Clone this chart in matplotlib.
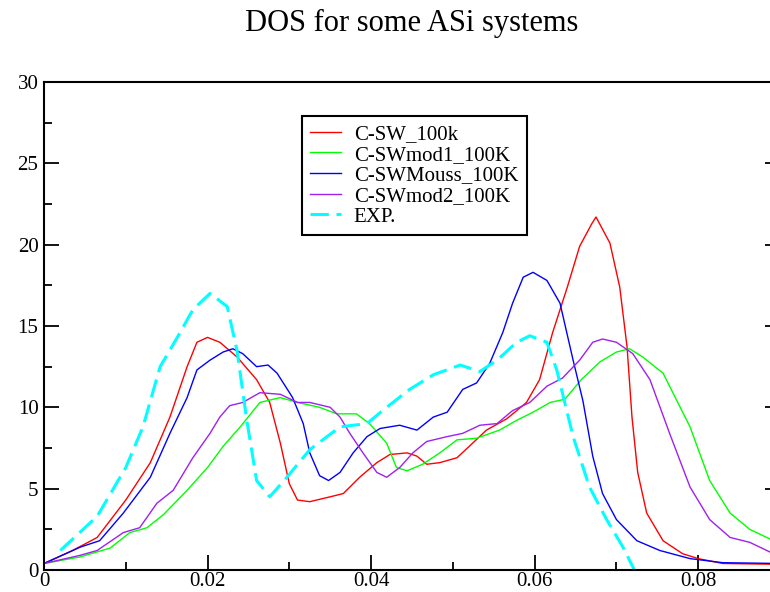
import matplotlib
matplotlib.use("Agg")
import matplotlib.pyplot as plt
from matplotlib.ticker import MultipleLocator

plt.rcParams['font.family'] = ['Liberation Serif', 'DejaVu Serif']

# curves
red_x = [0, 0.0035, 0.0065, 0.010, 0.013, 0.0154, 0.0175, 0.0187, 0.020, 0.0215, 0.0236, 0.026,
         0.0276, 0.0289, 0.030, 0.031, 0.0325, 0.035, 0.0366, 0.0386, 0.0407, 0.0423, 0.0444,
         0.0456, 0.0468, 0.0484, 0.0505, 0.052, 0.0541, 0.0566, 0.059, 0.0606, 0.0622, 0.064,
         0.0655, 0.067, 0.0675, 0.0692, 0.0704, 0.0713, 0.0719, 0.0726, 0.0737, 0.0757, 0.0781,
         0.080, 0.083, 0.09]
red_y = [0.4, 1.2, 2.0, 4.3, 6.6, 9.4, 12.5, 14.0, 14.3, 14.0, 13.1, 11.7,
         10.3, 7.8, 5.3, 4.3, 4.2, 4.5, 4.7, 5.7, 6.6, 7.1, 7.2,
         7.0, 6.5, 6.6, 6.9, 7.6, 8.6, 9.3, 10.3, 11.7, 14.6, 17.4,
         19.9, 21.3, 21.7, 20.1, 17.4, 13.7, 9.4, 6.0, 3.5, 1.8, 1.0,
         0.7, 0.4, 0.35]

green_x = [0, 0.0044, 0.0081, 0.0105, 0.0126, 0.0146, 0.0175, 0.020, 0.0219, 0.024, 0.0264,
           0.0289, 0.031, 0.0337, 0.0358, 0.0382, 0.0398, 0.0419, 0.0431, 0.0444, 0.0463,
           0.0484, 0.0505, 0.0529, 0.0557, 0.0578, 0.0598, 0.0619, 0.0637, 0.0657, 0.068,
           0.070, 0.0716, 0.0732, 0.0757, 0.079, 0.0814, 0.0839, 0.0863, 0.0888, 0.09]
green_y = [0.4, 0.8, 1.35, 2.3, 2.6, 3.4, 4.9, 6.3, 7.6, 8.8, 10.3,
           10.6, 10.3, 10.0, 9.6, 9.6, 9.0, 7.8, 6.3, 6.1, 6.5,
           7.2, 8.0, 8.1, 8.6, 9.2, 9.7, 10.3, 10.5, 11.7, 12.8,
           13.4, 13.6, 13.1, 12.1, 8.8, 5.5, 3.5, 2.5, 1.9, 1.7]

blue_x = [0, 0.0044, 0.0068, 0.0097, 0.013, 0.0154, 0.0175, 0.0187, 0.0203, 0.0219, 0.0231,
          0.0243, 0.026, 0.0274, 0.0285, 0.0304, 0.0317, 0.0325, 0.0337, 0.0348, 0.0362,
          0.0378, 0.0395, 0.0411, 0.0435, 0.0456, 0.0476, 0.0493, 0.0512, 0.0529, 0.0545,
          0.0561, 0.0573, 0.0586, 0.0598, 0.0615, 0.0631, 0.0647, 0.0659, 0.0671, 0.0683,
          0.070, 0.0725, 0.0753, 0.079, 0.083, 0.09]
blue_y = [0.4, 1.4, 1.8, 3.5, 5.7, 8.4, 10.6, 12.3, 12.9, 13.4, 13.6,
          13.3, 12.5, 12.6, 12.1, 10.6, 9.0, 7.2, 5.8, 5.5, 6.0,
          7.2, 8.2, 8.7, 8.9, 8.6, 9.4, 9.7, 11.1, 11.5, 12.7,
          14.6, 16.4, 18.0, 18.3, 17.8, 16.4, 12.9, 10.4, 7.0, 4.7,
          3.1, 1.8, 1.2, 0.7, 0.45, 0.4]

purple_x = [0, 0.0044, 0.0065, 0.0097, 0.0117, 0.0138, 0.0158, 0.0182, 0.0203, 0.0215, 0.0227,
            0.0243, 0.0264, 0.0289, 0.031, 0.0325, 0.035, 0.0362, 0.0374, 0.039, 0.0407,
            0.0419, 0.0435, 0.0451, 0.0468, 0.0493, 0.0512, 0.0533, 0.0554, 0.0573, 0.0594,
            0.0615, 0.0634, 0.0655, 0.0671, 0.0683, 0.070, 0.072, 0.0741, 0.0765, 0.079,
            0.0814, 0.0839, 0.0863, 0.0888, 0.09]
purple_y = [0.4, 0.9, 1.2, 2.3, 2.6, 4.1, 4.9, 6.9, 8.4, 9.4, 10.1,
            10.3, 10.9, 10.8, 10.3, 10.3, 10.0, 9.4, 8.4, 7.2, 6.0,
            5.7, 6.3, 7.2, 7.9, 8.2, 8.4, 8.9, 9.0, 9.8, 10.3,
            11.3, 11.8, 12.9, 14.0, 14.2, 14.0, 13.3, 11.7, 8.4, 5.1,
            3.1, 2.0, 1.7, 1.1, 1.0]

exp_x = [0.002, 0.0065, 0.010, 0.0121, 0.0142, 0.0163, 0.0182, 0.0203, 0.0224, 0.0236, 0.0248,
         0.026, 0.0276, 0.0297, 0.0325, 0.0362, 0.0395, 0.0414, 0.0447, 0.0476, 0.0509,
         0.0533, 0.0554, 0.0578, 0.0594, 0.0615, 0.0627, 0.0647, 0.0667, 0.0688, 0.0708, 0.0722]
exp_y = [1.2, 3.3, 6.3, 8.8, 12.5, 14.3, 16.0, 17.0, 16.2, 13.5, 9.2,
         5.5, 4.5, 5.7, 7.4, 8.8, 9.0, 9.8, 11.1, 12.0, 12.6,
         12.2, 12.9, 14.0, 14.4, 14.0, 12.3, 8.2, 5.1, 3.1, 1.4, 0.0]

fig = plt.figure(figsize=(7.7, 5.92), dpi=100)
# the frame runs a little past the right edge of the picture, like the original
ax = fig.add_axes([44 / 770, 22 / 592, 736 / 770, 488 / 592])

ax.plot(red_x, red_y, color="#ff0000", lw=1.0, label="C-SW_100k")
ax.plot(green_x, green_y, color="#00ff00", lw=1.0, label="C-SWmod1_100K")
ax.plot(blue_x, blue_y, color="#0000ff", lw=1.0, label="C-SWMouss_100K")
ax.plot(purple_x, purple_y, color="#a020f0", lw=1.0, label="C-SWmod2_100K")
ax.plot(exp_x, exp_y, color="#00ffff", lw=2.2, dashes=(6, 2.5), label="EXP.")

ax.set_xlim(0, 0.09)
ax.set_ylim(0, 30)
ax.xaxis.set_major_locator(MultipleLocator(0.02))
ax.xaxis.set_minor_locator(MultipleLocator(0.01))
ax.yaxis.set_major_locator(MultipleLocator(5))
ax.yaxis.set_minor_locator(MultipleLocator(2.5))
ax.xaxis.set_major_formatter(plt.FuncFormatter(lambda v, p: "0" if v == 0 else f"{v:g}"))

ax.tick_params(which="major", direction="in", length=11, width=1.3, right=True, labelsize=15, pad=4)
ax.tick_params(axis="x", which="major", pad=1.5)
ax.tick_params(which="minor", direction="in", length=6, width=1.3, right=False)
for s in ax.spines.values():
    s.set_linewidth(1.5)

ax.set_title("DOS for some ASi systems", fontsize=22, pad=37)

leg = ax.legend(loc="upper left", bbox_to_anchor=(0.35, 0.93), borderaxespad=0,
                fontsize=15, frameon=True, fancybox=False, framealpha=1,
                handlelength=1.5, handletextpad=0.6, labelspacing=0.05, borderpad=0.4)
leg.get_frame().set_edgecolor("black")
leg.get_frame().set_linewidth(1.5)

fig.savefig("out.png", dpi=100)
